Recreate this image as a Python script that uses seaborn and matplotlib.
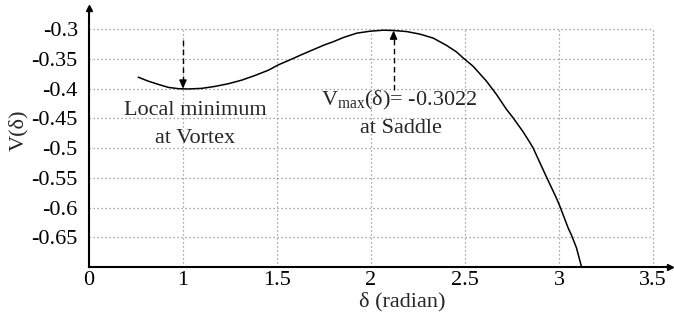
import matplotlib
matplotlib.use("Agg")
import matplotlib.pyplot as plt
import seaborn as sns
import pandas as pd

# Potential energy curve V(delta)
delta = [0.762, 0.815, 0.869, 0.922, 0.975, 1.028, 1.099, 1.170, 1.241, 1.312,
         1.383, 1.454, 1.507, 1.560, 1.631, 1.701, 1.754, 1.800, 1.853, 1.924,
         1.995, 2.065, 2.120, 2.190, 2.260, 2.331, 2.402, 2.455, 2.490, 2.543,
         2.614, 2.667, 2.720, 2.757, 2.810, 2.844, 2.862, 2.933, 2.987, 3.004,
         3.049, 3.067, 3.093, 3.120]
potential = [-0.3807, -0.3873, -0.3928, -0.3978, -0.4000, -0.4005, -0.3995,
             -0.3962, -0.3917, -0.3857, -0.3778, -0.3690, -0.3600, -0.3528,
             -0.3428, -0.3333, -0.3262, -0.3210, -0.3140, -0.3067, -0.3034,
             -0.3017, -0.3022, -0.3040, -0.3083, -0.3150, -0.3273, -0.3383,
             -0.3483, -0.3623, -0.3873, -0.4095, -0.4345, -0.4495, -0.4730,
             -0.4900, -0.4995, -0.5483, -0.5845, -0.5973, -0.6345, -0.6467,
             -0.6678, -0.7000]

# Axis ticks (the horizontal axis origin is labelled "0")
x_ticks = [0.5, 1.0, 1.5, 2.0, 2.5, 3.0, 3.5]
x_tick_labels = ["0", "1", "1.5", "2", "2.5", "3", "3.5"]
y_ticks = [-0.3, -0.35, -0.4, -0.45, -0.5, -0.55, -0.6, -0.65]
y_tick_labels = ["-0.3", "-0.35", "-0.4", "-0.45", "-0.5", "-0.55", "-0.6", "-0.65"]

# Marked extrema
vortex_delta, vortex_v = 1.0, -0.400
saddle_delta, saddle_v = 2.12, -0.3022

sns.set_style("white")
plt.rcParams["font.family"] = ["Liberation Serif", "DejaVu Serif"]
plt.rcParams["mathtext.fontset"] = "custom"
plt.rcParams["mathtext.rm"] = "Liberation Serif"
plt.rcParams["mathtext.it"] = "Liberation Serif:italic"

fig = plt.figure(figsize=(6.74, 3.25), dpi=100)
ax = fig.add_axes([0.132, 0.178, 0.862, 0.797])

x_lo, x_hi = 0.5, 3.59
y_lo, y_hi = -0.7, -0.2646
grid_right, grid_top = 3.5, -0.3

# dotted grid confined to the tick box
ax.hlines(y_ticks, x_lo, grid_right, colors="#8c8c8c", linestyles=(0, (1, 2.2)),
          linewidth=0.9, zorder=1)
ax.vlines(x_ticks[1:], y_lo, grid_top, colors="#8c8c8c", linestyles=(0, (1, 2.2)),
          linewidth=0.9, zorder=1)

df = pd.DataFrame({"delta": delta, "V": potential})
sns.lineplot(data=df, x="delta", y="V", color="black", linewidth=1.1,
             ax=ax, zorder=3)

ax.set_xlim(x_lo, x_hi)
ax.set_ylim(y_lo, y_hi)
ax.set_xticks(x_ticks)
ax.set_xticklabels(x_tick_labels)
ax.set_yticks(y_ticks)
ax.set_yticklabels(y_tick_labels)
ax.tick_params(axis="x", direction="in", length=4, width=1, pad=3,
               labelsize=16, colors="black")
ax.tick_params(axis="y", length=0, pad=8, labelsize=16, colors="black")

for side in ("top", "right"):
    ax.spines[side].set_visible(False)
for side in ("left", "bottom"):
    ax.spines[side].set_linewidth(1.5)
    ax.spines[side].set_color("black")

# arrow heads on the axes
ax.plot(1, 0, marker=">", color="black", markersize=5,
        transform=ax.transAxes, clip_on=False)
ax.plot(0, 1, marker="^", color="black", markersize=5,
        transform=ax.transAxes, clip_on=False)

ax.set_xlabel("δ (radian)", fontsize=16)
ax.xaxis.set_label_coords(0.54, -0.097)
ax.set_ylabel("V(δ)", fontsize=16)
ax.yaxis.set_label_coords(-0.105, 0.53)

# local minimum marker
ax.plot([vortex_delta, vortex_delta], [-0.3185, vortex_v + 0.012],
        color="black", linestyle=(0, (4, 2.5)), linewidth=1)
ax.annotate("", xy=(vortex_delta, vortex_v), xytext=(vortex_delta, vortex_v + 0.014),
            arrowprops=dict(arrowstyle="-|>,head_length=0.5,head_width=0.22",
                            color="black", lw=1, shrinkA=0, shrinkB=0))
ax.text(1.064, -0.436, "Local minimum", fontsize=16, ha="center", va="center")
ax.text(1.064, -0.483, "at Vortex", fontsize=16, ha="center", va="center")

# saddle maximum marker
ax.plot([saddle_delta, saddle_delta], [-0.4027, saddle_v - 0.012],
        color="black", linestyle=(0, (4, 2.5)), linewidth=1)
ax.annotate("", xy=(saddle_delta, saddle_v), xytext=(saddle_delta, saddle_v - 0.014),
            arrowprops=dict(arrowstyle="-|>,head_length=0.5,head_width=0.22",
                            color="black", lw=1, shrinkA=0, shrinkB=0))
ax.text(2.149, -0.4195, r"V$_{\mathrm{max}}$(δ)= " + f"{saddle_v:.4f}",
        fontsize=16, ha="center", va="center")
ax.text(2.16, -0.4667, "at Saddle", fontsize=16, ha="center", va="center")

fig.savefig("out.png", dpi=100)
